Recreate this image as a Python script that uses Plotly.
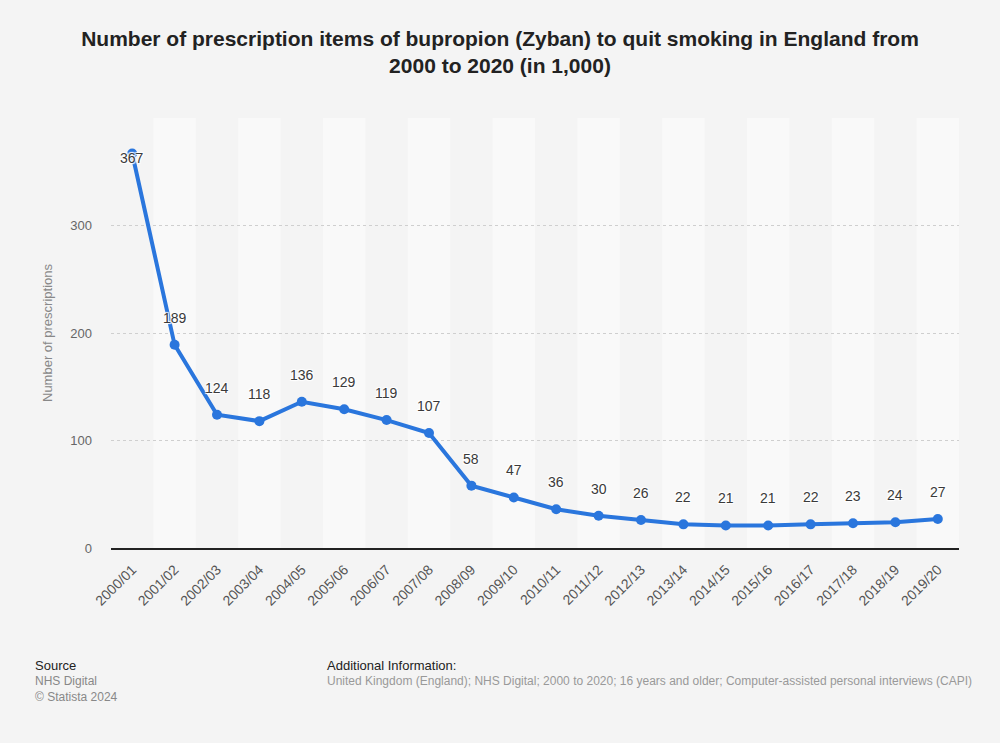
import plotly.graph_objects as go

categories = ["2000/01", "2001/02", "2002/03", "2003/04", "2004/05", "2005/06", "2006/07",
              "2007/08", "2008/09", "2009/10", "2010/11", "2011/12", "2012/13", "2013/14",
              "2014/15", "2015/16", "2016/17", "2017/18", "2018/19", "2019/20"]
values = [367, 189, 124, 118, 136, 129, 119, 107, 58, 47, 36, 30, 26, 22, 21, 21, 22, 23, 24, 27]
y_ticks = [0, 100, 200, 300, 400]
y_ticklabels = ["0", "100", "200", "300", ""]

FONT = "Liberation Sans, Arial, sans-serif"
BLUE = "#2a76dd"

fig = go.Figure()
fig.add_trace(go.Scatter(
    x=categories, y=values, mode="lines+markers",
    line=dict(color=BLUE, width=4),
    marker=dict(color=BLUE, size=10),
    hoverinfo="x+y", showlegend=False, cliponaxis=False,
))

shapes = []
for i in range(len(categories)):
    if i % 2 == 1:
        shapes.append(dict(type="rect", xref="x", yref="paper", x0=i - 0.5, x1=i + 0.5,
                           y0=0, y1=1, fillcolor="#f9f9f9", line=dict(width=0), layer="below"))

annotations = []
for i, (c, v) in enumerate(zip(categories, values)):
    annotations.append(dict(
        x=c, y=v, text=str(v), showarrow=False, xref="x", yref="y",
        yshift=(-5 if i == 0 else 27),
        font=dict(family=FONT, size=14, color="#3a3a3a",
                  shadow="1px 1px 1px #ffffff, -1px -1px 1px #ffffff, 1px -1px 1px #ffffff, -1px 1px 1px #ffffff"),
    ))

W, H = 1000, 743
ml, mr, mt, mb = 111, 41, 118, 195
pw, ph = W - ml - mr, H - mt - mb

footer = [
    dict(text="Source", x=33, y=665, size=13, color="#222222"),
    dict(text="NHS Digital", x=33, y=681, size=12, color="#888888"),
    dict(text="© Statista 2024", x=33, y=697, size=12, color="#888888"),
    dict(text="Additional Information:", x=325, y=665, size=13, color="#222222"),
    dict(text="United Kingdom (England); NHS Digital; 2000 to 2020; 16 years and older; Computer-assisted personal interviews (CAPI)",
         x=325, y=681, size=12, color="#999999"),
]
for f in footer:
    annotations.append(dict(
        text=f["text"], x=(f["x"] - ml) / pw, y=1 - (f["y"] - mt) / ph, xref="paper", yref="paper",
        xanchor="left", yanchor="middle", showarrow=False, align="left",
        font=dict(family=FONT, size=f["size"], color=f["color"]),
    ))

fig.update_layout(
    width=W, height=H,
    margin=dict(l=ml, r=mr, t=mt, b=mb, autoexpand=False),
    paper_bgcolor="#f4f4f4", plot_bgcolor="#f4f4f4",
    title=dict(
        text="<b>Number of prescription items of bupropion (Zyban) to quit smoking in England from<br>2000 to 2020 (in 1,000)</b>",
        x=0.5, xanchor="center", xref="container", yref="container", y=1 - 46 / 743, yanchor="top",
        font=dict(family=FONT, size=21, color="#222222"),
    ),
    shapes=shapes, annotations=annotations,
    xaxis=dict(
        type="category", range=[-0.5, len(categories) - 0.5],
        showgrid=False, showline=True, linecolor="#222222", linewidth=2,
        tickangle=-45, tickfont=dict(family=FONT, size=14, color="#555555"),
        ticks="", zeroline=False, fixedrange=True, ticklabelstandoff=6,
    ),
    yaxis=dict(
        range=[0, 400], tickvals=y_ticks, ticktext=y_ticklabels,
        showgrid=True, gridcolor="#cfcfcf", griddash="dot", gridwidth=1,
        zeroline=False, showline=False, ticks="", ticklabelstandoff=18,
        tickfont=dict(family=FONT, size=13, color="#666666"),
        title=dict(text="Number of prescriptions", standoff=14,
                   font=dict(family=FONT, size=13, color="#888888")),
        fixedrange=True,
    ),
)

fig.write_html("out.html", config={"displayModeBar": False},
               post_script="document.body.style.margin='0';document.body.style.background='#f4f4f4';")
